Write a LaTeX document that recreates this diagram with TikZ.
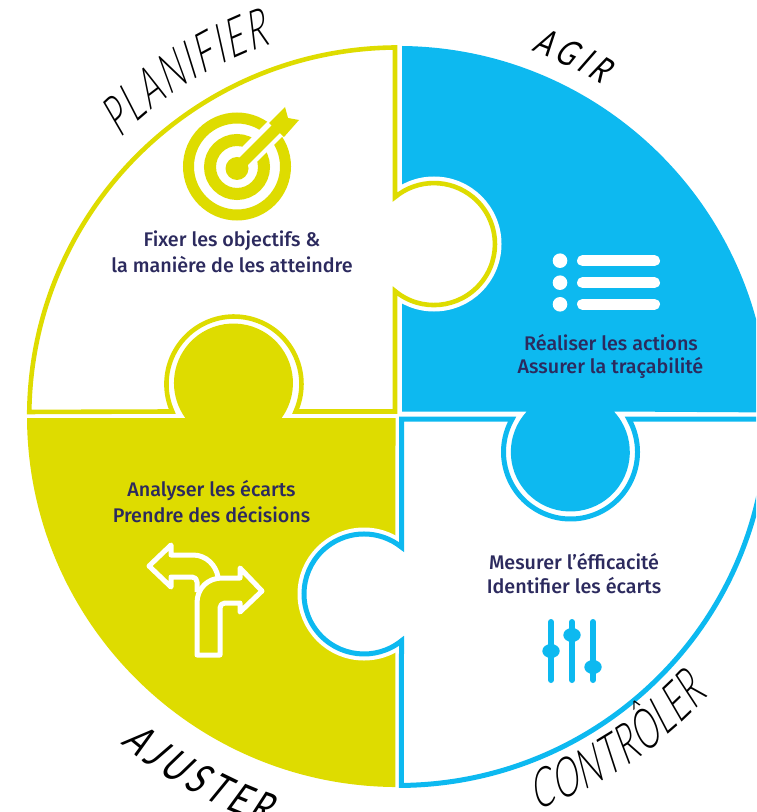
\documentclass[tikz,border=0pt]{standalone}
\usepackage{fontspec}
\usetikzlibrary{decorations.text}
\setmainfont{Open Sans}
\newfontfamily\bodyf[UprightFont=* Medium]{Fira Sans}
\newfontfamily\hand[FakeStretch=0.62,FakeSlant=0.24,UprightFont=* Light]{Lato}
\newfontfamily\handw[FakeStretch=0.74,FakeSlant=0.24]{Lato}
\definecolor{yel}{HTML}{DEDC00}
\definecolor{blu}{HTML}{0DB9F0}
\definecolor{ink}{HTML}{2C2A5E}
\tikzset{
  body/.style={font=\bodyf\fontsize{14.8}{15}\selectfont,text=ink,inner sep=0pt,anchor=center},
  halo/.style={draw=white,line width=13*0.75pt},
  yline/.style={draw=yel,fill=white,line width=4.6*0.75pt,miter limit=10},
  bline/.style={draw=blu,fill=white,line width=5*0.75pt,miter limit=10},
  handt/.style={decorate,decoration={text along path,text align={fit to path},text={#1}}},
}
\begin{document}
\begin{tikzpicture}[x=0.75pt,y=-0.75pt]
\useasboundingbox (0,0) rectangle (756,812);
\clip (0,0) rectangle (756,812);
\coordinate (c) at (398,416);
% blue quadrant
\fill[blu] (402,46) arc[start angle=270.6,end angle=359.3,radius=371] -- (613.9,411.5)
  arc[start angle=-42.9,end angle=222.9,radius=59.5] -- (402,411.5) -- cycle;
% yellow quadrant
\fill[yel] (395.5,418) -- (281.6,418) arc[start angle=36,end angle=-216,radius=59.5] -- (27,418)
  arc[start angle=179.7,end angle=90.4,radius=371] -- cycle;
% halos
\draw[halo] (434,244) circle[radius=61];
\draw[halo] (364,594) circle[radius=60];
% planifier piece
\draw[yline] (395,47.5) arc[start angle=269.5,end angle=180.7,radius=369] -- (172.3,411.5)
  arc[start angle=156,end angle=384,radius=67.5] -- (395,411.5) -- (395,291)
  arc[start angle=129.7,end angle=-129.7,radius=61] -- cycle;
% controler piece
\draw[bline] (401.5,419) -- (512.2,419) arc[start angle=209.5,end angle=-29.5,radius=67] -- (767.4,419)
  arc[start angle=0.47,end angle=89.46,radius=369.5] -- (401.5,640.8)
  arc[start angle=51.3,end angle=308.7,radius=60] -- cycle;
% target icon
\draw[yel,line width=11*0.75pt] (237,166.5) circle[radius=48.5];
\draw[yel,line width=12*0.75pt] (237,167) circle[radius=27];
\draw[white,line width=21*0.75pt] (240,164) -- (296,108);
\fill[yel] (237,168.5) circle[radius=11.5];
\draw[yel,line width=11*0.75pt] (237,168) -- (276,129);
\fill[yel] (269,123) -- (285,107) -- (288,118) -- (299,120) -- (284,137) -- cycle;
% list icon
\foreach \yy in {260.7,282.7,304.3}{
  \fill[white] (560,\yy) circle[radius=7.3];
  \draw[white,line width=11*0.75pt,line cap=round] (582.5,\yy) -- (654.5,\yy);
}
% fork icon
\draw[white,line width=5*0.75pt,line join=round]
  (197,655) -- (197,603) .. controls (197,588) and (208,578) .. (222,578) -- (240,578) -- (240,568)
  -- (262,591) -- (240,612) -- (240,603) -- (225,603) .. controls (222,603) and (220,605) .. (220,608)
  -- (220,655) -- cycle;
\draw[white,line width=5*0.75pt,line join=round]
  (197,592) -- (197,582) .. controls (197,579) and (195,577) .. (192,577) -- (171,577) -- (171,587)
  -- (149,566) -- (171,545) -- (171,555) -- (193,555) .. controls (206,555) and (216,565) .. (218,577);
% sliders icon
\foreach \xx/\kk in {551/651,572/635,593/667}{
  \draw[blu,line width=6*0.75pt,line cap=round] (\xx,622) -- (\xx,680);
  \fill[blu] (\xx,\kk) ellipse[x radius=8.7,y radius=7];
}
% texts
\node[body] (t1a) at (232,241) {Fixer les objectifs \&};
\node[body] (t1b) at (232,265) {la manière de les atteindre};
\node[body] (t2a) at (611,343) {Réaliser les actions};
\node[body] (t2b) at (610.5,368) {Assurer la traçabilité};
\node[body] (t3a) at (211.5,491) {Analyser les écarts};
\node[body] (t3b) at (211.5,515) {Prendre des décisions};
\node[body] (t4a) at (574,562) {Mesurer l’éfficacité};
\node[body] (t4b) at (574,586) {Identifier les écarts};
% handwritten labels
\path[handt={|\hand\fontsize{40}{40}\selectfont|PLANIFIER}] ([shift={(c)}]225:393) arc[start angle=225,end angle=251,radius=393];
\path[handt={|\handw\fontsize{27}{27}\selectfont|AGIR}] ([shift={(c)}]290:389) arc[start angle=290,end angle=301.5,radius=389];
\path[handt={|\handw\fontsize{32}{32}\selectfont|AJUSTER}] ([shift={(c)}]130.3:429) arc[start angle=130.3,end angle=108,radius=429];
\path[handt={|\hand\fontsize{40}{40}\selectfont|CONTRÔLER}] ([shift={(c)}]70.6:418) arc[start angle=70.6,end angle=42,radius=418];
\end{tikzpicture}
\end{document}
